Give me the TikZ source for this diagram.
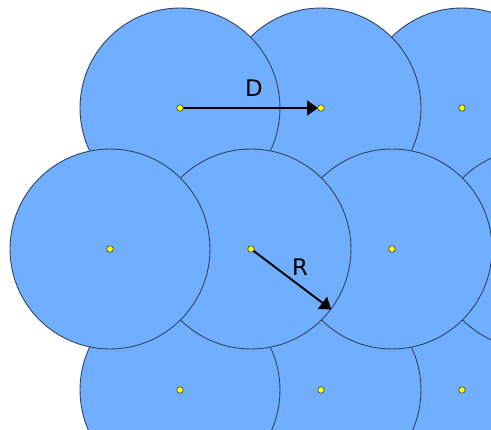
\documentclass[tikz,border=0pt]{standalone}
\usepackage{fontspec}
\setsansfont{DejaVu Sans}
\usepackage{tikz}
\usetikzlibrary{arrows.meta}
\definecolor{cellblue}{HTML}{70AFFF}
\definecolor{rim}{HTML}{34425A}
\definecolor{spot}{HTML}{FFFF00}
\tikzset{
  cell/.style={circle, draw=rim, fill=cellblue, line width=0.5pt,
               minimum size=4cm, inner sep=0pt},
  centre/.style={circle, draw=black!75, fill=spot, line width=0.35pt,
                 minimum size=0.13cm, inner sep=0pt},
  arrow/.style={-{Triangle[length=0.22cm,width=0.3cm]}, line width=1.1pt, draw=black},
  tag/.style={font=\sffamily\fontsize{13}{15}\selectfont, inner sep=0pt}
}
\begin{document}
\begin{tikzpicture}[x=0.02cm,y=0.02cm]
    \useasboundingbox (0,0) rectangle (491,430);
    \clip (0,0) rectangle (491,430);
    % top and bottom rows, right to left
    \foreach \i/\xx in {3/462,2/321,1/180} {
      \node[cell] (t\i) at (\xx,322) {};
      \node[cell] (b\i) at (\xx,40) {};
    }
    % middle row lies over both
    \foreach \i/\xx in {4/533,3/392,2/251,1/110} {
      \node[cell] (m\i) at (\xx,181) {};
    }

    \draw[arrow,shorten >=0.06cm] (t1.center) -- (t2.center);
    \node[tag] (dlabel) at (254,341.5) {D};
    \draw[arrow] (m2.center) -- (m2.-37.7);
    \node[tag] (rlabel) at (300,163) {R};

    \foreach \n in {t1,t2,t3,m1,m2,m3,m4,b1,b2,b3} {
      \node[centre] (p\n) at (\n.center) {};
    }
  \end{tikzpicture}
\end{document}
